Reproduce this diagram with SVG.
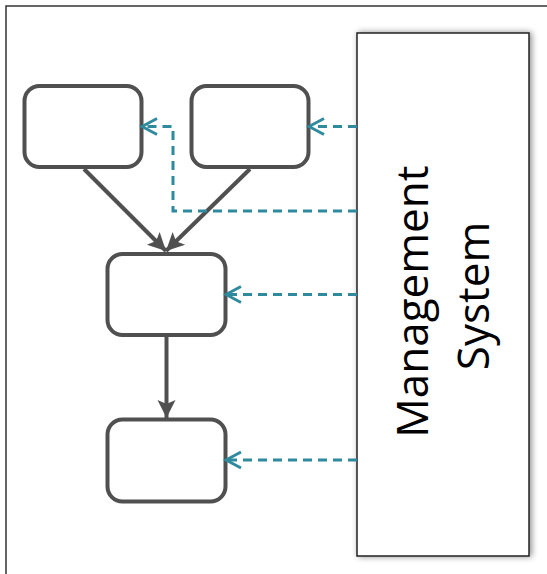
<svg xmlns="http://www.w3.org/2000/svg" width="547" height="574" viewBox="0 0 547 574">
  <style>
    .node { fill: #ffffff; stroke: #505050; stroke-width: 4; }
    .flow { fill: none; stroke: #505050; stroke-width: 4; }
    .ctrl { fill: none; stroke: #2f8a9e; stroke-width: 3; stroke-dasharray: 9 6; }
    .label { font-family: "Open Sans", "Liberation Sans", sans-serif; font-size: 44px; fill: #000000; }
  </style>
  <defs>
    <marker id="solid" markerUnits="userSpaceOnUse" markerWidth="20" markerHeight="20" viewBox="0 0 20 20" refX="18" refY="10" orient="auto">
      <path d="M0,1 L18,10 L0,19 L4,10 Z" fill="#505050"/>
    </marker>
    <marker id="open" markerUnits="userSpaceOnUse" markerWidth="22" markerHeight="22" viewBox="0 0 22 22" refX="19" refY="11" orient="auto">
      <path d="M4,3 L19,11 L4,19" fill="none" stroke="#2f8a9e" stroke-width="3"/>
    </marker>
    <filter id="shadow" x="-10%" y="-5%" width="125%" height="112%">
      <feDropShadow dx="2" dy="0" stdDeviation="3" flood-color="#000000" flood-opacity="0.45"/>
    </filter>
  </defs>

  <rect id="frame" x="6" y="6" width="560" height="580" fill="#ffffff" stroke="#333333" stroke-width="1.5"/>

  <g id="management-system">
    <rect x="357" y="33" width="172" height="523" fill="#ffffff" stroke="#222222" stroke-width="1.5" filter="url(#shadow)"/>
    <text class="label" transform="translate(428,296) rotate(-90)" text-anchor="middle">
      <tspan x="0" y="0">Management</tspan>
      <tspan x="0" y="61">System</tspan>
    </text>
  </g>

  <g id="node-a"><rect class="node" x="24.5" y="86" width="117" height="81" rx="15"/></g>
  <g id="node-b"><rect class="node" x="191.5" y="86" width="117" height="81" rx="15"/></g>
  <g id="node-c"><rect class="node" x="107.5" y="254" width="118" height="81" rx="15"/></g>
  <g id="node-d"><rect class="node" x="107.5" y="419.5" width="118" height="82" rx="15"/></g>

  <g id="connectors">
    <line class="flow" x1="84" y1="169" x2="166" y2="251" marker-end="url(#solid)"/>
    <line class="flow" x1="250" y1="169" x2="166" y2="251" marker-end="url(#solid)"/>
    <line class="flow" x1="166.5" y1="337" x2="166.5" y2="418" marker-end="url(#solid)"/>

    <path class="ctrl" d="M357,126.5 L309,126.5" marker-end="url(#open)"/>
    <path class="ctrl" d="M357,211 L173,211 L173,126.5 L142,126.5" marker-end="url(#open)"/>
    <path class="ctrl" d="M357,294.5 L226,294.5" marker-end="url(#open)"/>
    <path class="ctrl" d="M357,460 L226,460" marker-end="url(#open)"/>
  </g>
</svg>
